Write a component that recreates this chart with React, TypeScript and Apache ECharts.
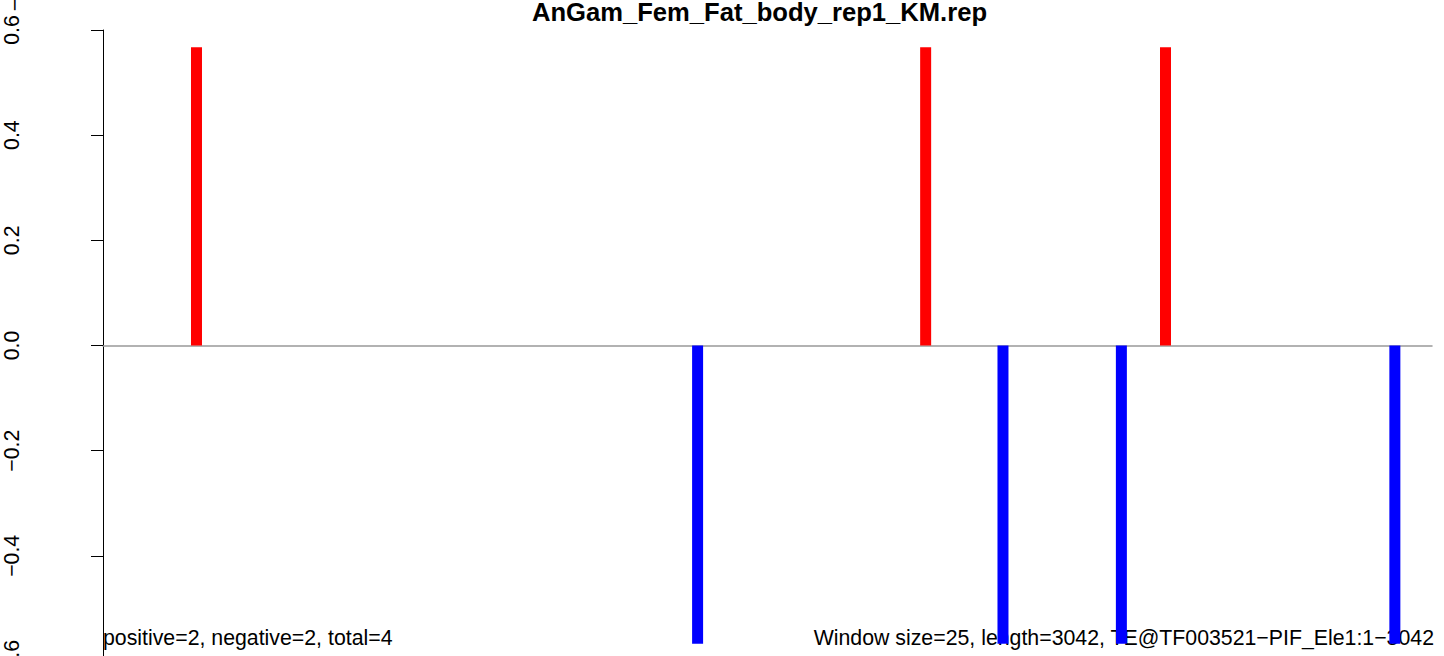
import React, { useEffect, useRef } from "react";
import * as echarts from "echarts";

const TITLE = "AnGam_Fem_Fat_body_rep1_KM.rep";
const LEFT_NOTE = "positive=2, negative=2, total=4";
const RIGHT_NOTE = "Window size=25, length=3042, TE@TF003521\u2212PIF_Ele1:1\u22123042";
const SEQ_LENGTH = 3042;
const positions = [214, 1361, 1883, 2060, 2331, 2432, 2957];
const scores = [0.567, -0.567, 0.567, -0.567, -0.567, 0.567, -0.567];
const yTicks = [-0.6, -0.4, -0.2, 0, 0.2, 0.4, 0.6];

const FONT = '"Liberation Sans", Arial, Helvetica, sans-serif';

export default function App() {
  const ref = useRef<HTMLDivElement>(null);
  useEffect(() => {
    if (!ref.current) return;
    const chart = echarts.init(ref.current, undefined, { renderer: "svg" });
    const data = positions.map((p, i) => ({
      value: [p, scores[i]],
      itemStyle: { color: scores[i] >= 0 ? "#ff0000" : "#0000ff" },
    }));
    chart.setOption({
      animation: false,
      backgroundColor: "#ffffff",
      grid: {
        left: 103,
        width: 1329,
        top: 30,
        height: 631,
        containLabel: false,
        outerBoundsMode: "none",
      },
      xAxis: {
        type: "value",
        min: 0,
        max: SEQ_LENGTH,
        axisLine: { show: true, onZero: true, lineStyle: { color: "#999999", width: 1.5 } },
        axisTick: { show: false },
        axisLabel: { show: false },
        splitLine: { show: false },
      },
      yAxis: {
        type: "value",
        min: yTicks[0],
        max: yTicks[yTicks.length - 1],
        interval: 0.2,
        offset: 53,
        axisLine: { show: true, lineStyle: { color: "#000", width: 1 } },
        axisTick: { show: true, length: 12, lineStyle: { color: "#000", width: 1 } },
        axisLabel: {
          rotate: 90,
          margin: 28,
          fontSize: 21.3,
          fontFamily: FONT,
          color: "#000",
          formatter: (v: number) => v.toFixed(1).replace("-", "\u2212"),
        },
        splitLine: { show: false },
      },
      series: [
        {
          type: "bar",
          data,
          barWidth: 11,
          z: 10,
        },
      ],
      graphic: [
        {
          type: "text",
          z: 1,
          style: {
            text: TITLE,
            x: 759.5,
            y: 12,
            textAlign: "center",
            textVerticalAlign: "middle",
            font: `bold 25.6px ${FONT}`,
            fill: "#000",
          },
        },
        {
          type: "text",
          z: 1,
          style: {
            text: LEFT_NOTE,
            x: 103,
            y: 638,
            textAlign: "left",
            textVerticalAlign: "middle",
            font: `21.3px ${FONT}`,
            fill: "#000",
          },
        },
        {
          type: "text",
          z: 1,
          style: {
            text: RIGHT_NOTE,
            x: 1434,
            y: 638,
            textAlign: "right",
            textVerticalAlign: "middle",
            font: `21.3px ${FONT}`,
            fill: "#000",
          },
        },
        {
          type: "text",
          z: 1,
          x: 15,
          y: 5,
          rotation: Math.PI / 2,
          style: {
            text: "\u2212",
            x: 0,
            y: 0,
            textAlign: "center",
            textVerticalAlign: "middle",
            font: `21.3px ${FONT}`,
            fill: "#000",
          },
        },
      ],
    });
    return () => chart.dispose();
  }, []);
  return (
    <div
      ref={ref}
      style={{ position: "absolute", left: 0, top: 0, width: 1444, height: 656 }}
    />
  );
}
